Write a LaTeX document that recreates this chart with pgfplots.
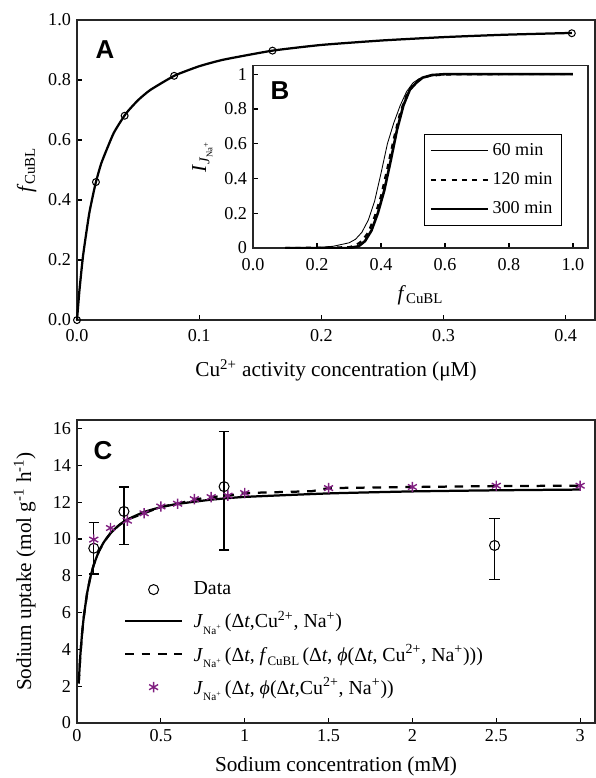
\documentclass[border=0pt]{standalone}
\usepackage{fontspec}
\setmainfont{Liberation Serif}
\setsansfont{Liberation Sans}
\usepackage{pgfplots}
\pgfplotsset{compat=1.18}
\definecolor{starpurple}{rgb}{0.50,0.12,0.50}
\newcommand{\JNa}{\textit{J}\raisebox{-0.7ex}{\fontsize{6.5}{6.5}\selectfont Na\textsuperscript{+}}}
\newcommand{\fCu}{\textit{f}\raisebox{-0.45ex}{\fontsize{7.5}{7.5}\selectfont CuBL}}
\begin{document}
\begin{tikzpicture}
\useasboundingbox (0,0) rectangle (345pt,450.4pt);
\pgfplotsset{
  every axis/.append style={
    scale only axis,
    tick align=inside,
    tick pos=left,
    major tick length=3pt,
    axis line style={black!85, line width=0.7pt},
    every tick/.style={black, line width=0.7pt},
    tick label style={font=\fontsize{10.5}{12}\selectfont},
    label style={font=\fontsize{12.3}{14}\selectfont},
  },
  mylegimg/.style={legend image code/.code={%
    \draw[mark repeat=2,mark phase=2,##1] plot coordinates {(0cm,0cm) (0.58cm,0cm) (1.16cm,0cm)};}},
}
% ---------------- Panel A ----------------
\begin{axis}[
  at={(44.58pt,265.1pt)}, anchor=south west,
  width=299.9pt, height=173.7pt,
  xmin=0, xmax=0.424, ymin=0, ymax=1.0,
  xtick={0,0.1,0.2,0.3,0.4}, xticklabels={0.0,0.1,0.2,0.3,0.4},
  ytick={0,0.2,0.4,0.6,0.8,1.0}, yticklabels={0.0,0.2,0.4,0.6,0.8,1.0},
  xticklabel style={yshift=-1.7pt},
  xlabel={Cu\textsuperscript{2+} activity concentration (μM)},
  xlabel style={yshift=-3.5pt},
  ylabel={\textit{f}\textsubscript{CuBL}},
  clip=false,
]
\addplot[black, line width=1.3pt, smooth, tension=0.3] coordinates {
 (0,0) (0.002,0.099) (0.005,0.216) (0.01,0.355) (0.015,0.452) (0.02,0.524)
 (0.03,0.623) (0.04,0.688) (0.05,0.733) (0.06,0.767) (0.08,0.815) (0.1,0.846)
 (0.12,0.868) (0.16,0.898) (0.2,0.917) (0.25,0.932) (0.3,0.943) (0.35,0.951) (0.405,0.957)};
\addplot[only marks, mark=o, mark size=2pt, black, line width=0.6pt] coordinates {
 (0,0) (0.0155,0.46) (0.039,0.681) (0.0795,0.814) (0.160,0.898) (0.405,0.956)};
\node[font=\sffamily\bfseries\fontsize{15}{17}\selectfont] at (axis cs:0.023,0.9) {A};
\end{axis}
% ---------------- Panel B (inset) ----------------
\begin{axis}[
  at={(146.5pt,306.8pt)}, anchor=south west,
  width=193.9pt, height=105.9pt,
  axis background/.style={fill=white},
  xmin=0, xmax=1.047, ymin=0, ymax=1.052,
  xtick={0,0.2,0.4,0.6,0.8,1.0}, xticklabels={0.0,0.2,0.4,0.6,0.8,1.0},
  ytick={0,0.2,0.4,0.6,0.8,1}, yticklabels={0,0.2,0.4,0.6,0.8,1},
  xticklabel style={yshift=-2.5pt},
  xlabel={\textit{f}\textsubscript{CuBL}},
  xlabel style={yshift=-1.5pt},
  ylabel={\textit{I}\textsubscript{\textit{J}\textsubscript{\tiny Na\textsuperscript{+}}}},
  mylegimg,
  legend cell align=left,
  legend style={at={(0.51,0.623)}, anchor=north west, draw=black, line width=0.5pt,
    font=\fontsize{10.5}{12}\selectfont, row sep=4.5pt, inner sep=3pt},
]
\addplot[black, line width=0.5pt] coordinates {
 (0.1,0) (0.2,0.003) (0.25,0.01) (0.3,0.03) (0.32,0.05) (0.34,0.09) (0.36,0.16)
 (0.38,0.27) (0.4,0.43) (0.42,0.6) (0.44,0.72) (0.46,0.82) (0.48,0.9) (0.5,0.95)
 (0.52,0.975) (0.55,0.99) (0.6,0.998) (0.8,1.0) (1.0,1.0)};
\addlegendentry{60 min}
\addplot[black, line width=1.2pt, dash pattern=on 3pt off 3pt] coordinates {
 (0.1,0) (0.3,0.005) (0.32,0.015) (0.34,0.04) (0.36,0.09) (0.38,0.18) (0.4,0.3)
 (0.42,0.46) (0.44,0.63) (0.46,0.78) (0.48,0.88) (0.5,0.94) (0.52,0.97)
 (0.55,0.99) (0.6,0.998) (0.8,1.0) (1.0,1.0)};
\addlegendentry{120 min}
\addplot[black, line width=1.5pt] coordinates {
 (0.1,0) (0.3,0) (0.33,0.01) (0.35,0.04) (0.37,0.1) (0.39,0.2) (0.41,0.33)
 (0.43,0.5) (0.45,0.68) (0.47,0.82) (0.49,0.91) (0.51,0.95) (0.53,0.98)
 (0.56,0.995) (0.6,1.0) (0.8,1.0) (1.0,1.0)};
\addlegendentry{300 min}
\node[font=\sffamily\bfseries\fontsize{15}{17}\selectfont] at (axis cs:0.084,0.905) {B};
\end{axis}
% ---------------- Panel C ----------------
\begin{axis}[
  at={(44.58pt,31.84pt)}, anchor=south west,
  width=299.9pt, height=175.4pt,
  xmin=0, xmax=3.089, ymin=0, ymax=16.47,
  xtick={0,0.5,1,1.5,2,2.5,3}, xticklabels={0,0.5,1,1.5,2,2.5,3},
  ytick={0,2,4,6,8,10,12,14,16}, yticklabels={0,2,4,6,8,10,12,14,16},
  xlabel={Sodium concentration (mM)},
  xlabel style={yshift=-2pt},
  ylabel={Sodium uptake (mol g\textsuperscript{-1} h\textsuperscript{-1})},
  ylabel shift=3pt,
  mylegimg,
  legend style={at={(0.08,0.49)}, anchor=north west, draw=none, fill=none,
    font=\fontsize{11.5}{13}\selectfont, row sep=4pt,
    /tikz/every odd column/.append style={column sep=4pt}},
  legend cell align=left,
  clip=false,
]
\addplot[only marks, mark=o, mark size=2.9pt, black, line width=0.6pt,
  error bars/.cd, y dir=both, y explicit,
  error bar style={line width=0.7pt},
  error mark options={rotate=90, mark size=3pt, line width=0.7pt}]
 coordinates {
 (0.1,9.5) += (0,1.4) -= (0,1.4)
 (0.28,11.5) += (0,1.33) -= (0,1.78)
 (0.877,12.85) += (0,3.0) -= (0,3.45)
 (2.49,9.65) += (0,1.45) -= (0,1.85)};
\addlegendentry{Data}
\addplot[black, line width=1.3pt, smooth, tension=0.3] coordinates {
 (0.01,2.15) (0.02,3.69) (0.03,4.84) (0.04,5.73) (0.06,7.04) (0.08,7.94) (0.1,8.6)
 (0.13,9.32) (0.16,9.83) (0.2,10.32) (0.25,10.75) (0.3,11.06) (0.4,11.47)
 (0.5,11.73) (0.6,11.91) (0.8,12.14) (1.0,12.29) (1.5,12.48) (2.0,12.59)
 (2.5,12.65) (3.0,12.69)};
\addlegendentry{\JNa\,(Δ\textit{t},Cu\textsuperscript{2+}, Na\textsuperscript{+})}
\addplot[black, line width=1.3pt, dash pattern=on 5pt off 4.5pt] coordinates {
 (0.01,2.15) (0.02,3.69) (0.03,4.84) (0.04,5.73) (0.06,7.04) (0.08,7.94) (0.1,8.6)
 (0.13,9.32) (0.16,9.83) (0.2,10.32) (0.25,10.75) (0.3,11.06) (0.4,11.4)
 (0.5,11.75) (0.6,11.92) (0.7,12.15) (0.8,12.28) (0.9,12.36) (1.0,12.5)
 (1.4,12.6) (1.5,12.77) (2.0,12.83) (2.5,12.88) (3.0,12.9)};
\addlegendentry{\JNa\,(Δ\textit{t}, \fCu\,(Δ\textit{t}, \textit{ϕ}(Δ\textit{t}, Cu\textsuperscript{2+}, Na\textsuperscript{+})))}
\addplot[only marks, mark=asterisk, mark size=3pt, starpurple, line width=0.8pt] coordinates {
 (0.1,9.97) (0.2,10.6) (0.3,11.0) (0.4,11.4) (0.5,11.77) (0.6,11.92) (0.7,12.17)
 (0.8,12.28) (0.9,12.36) (1.0,12.5) (1.5,12.77) (2.0,12.83) (2.5,12.9) (3.0,12.9)};
\addlegendentry{\JNa\,(Δ\textit{t}, \textit{ϕ}(Δ\textit{t},Cu\textsuperscript{2+}, Na\textsuperscript{+}))}
\node[font=\sffamily\bfseries\fontsize{15}{17}\selectfont] at (axis cs:0.155,14.8) {C};
\end{axis}
\end{tikzpicture}
\end{document}
